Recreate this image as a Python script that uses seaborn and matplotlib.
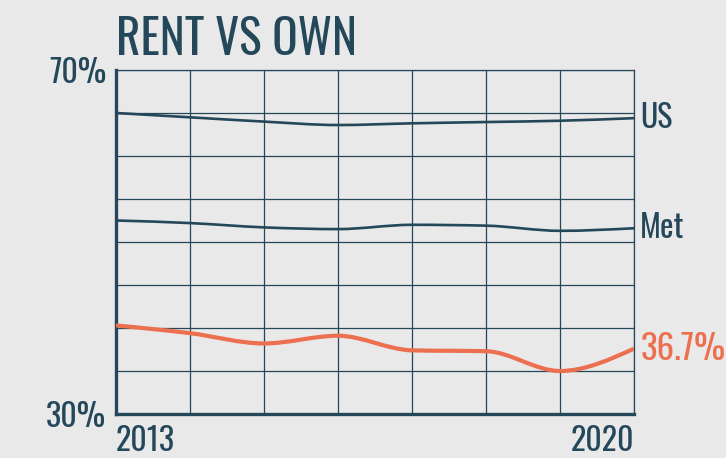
import numpy as np
import matplotlib
matplotlib.use("Agg")
import matplotlib.pyplot as plt
from matplotlib.path import Path
from matplotlib.patches import PathPatch
import seaborn as sns

# --------------------------------------------------------------
# Data
# --------------------------------------------------------------
years = [2013, 2014, 2015, 2016, 2017, 2018, 2019, 2020]
us_share = [65.0, 64.5, 64.0, 63.6, 63.8, 63.95, 64.1, 64.4]
met_share = [52.5, 52.2, 51.7, 51.5, 52.0, 51.9, 51.3, 51.6]
local_share = [40.3, 39.4, 38.2, 39.1, 37.4, 37.3, 35.0, 37.6]
series_names = ["US", "Met", "36.7%"]
y_grid = [30, 35, 40, 45, 50, 55, 60, 65, 70]
y_tick_labels = ["30%", "", "", "", "", "", "", "", "70%"]
x_tick_labels = ["2013", "", "", "", "", "", "", "2020"]
title = "RENT VS OWN"

DARK = "#24485a"
ORANGE = "#ec6f4f"
BG = "#e9e9e9"
FONT = ["Oswald", "Barlow Condensed", "DejaVu Sans"]


def monotone_path(x, y):
    """Bezier path through the points, monotone in x (like d3 curveMonotoneX)."""
    x = np.asarray(x, float)
    y = np.asarray(y, float)
    h = np.diff(x)
    s = np.diff(y) / h
    n = len(x)
    m = np.zeros(n)
    for i in range(1, n - 1):
        p = (s[i - 1] * h[i] + s[i] * h[i - 1]) / (h[i - 1] + h[i])
        m[i] = (np.sign(s[i - 1]) + np.sign(s[i])) * min(abs(s[i - 1]), abs(s[i]), 0.5 * abs(p))
    m[0] = (3 * s[0] - m[1]) / 2
    m[-1] = (3 * s[-1] - m[-2]) / 2
    verts = [(x[0], y[0])]
    codes = [Path.MOVETO]
    for i in range(n - 1):
        d = h[i] / 3
        verts += [(x[i] + d, y[i] + m[i] * d),
                  (x[i + 1] - d, y[i + 1] - m[i + 1] * d),
                  (x[i + 1], y[i + 1])]
        codes += [Path.CURVE4] * 3
    return Path(verts, codes)


sns.set_theme(style="white", rc={"figure.facecolor": BG, "axes.facecolor": BG})
plt.rcParams["font.family"] = FONT

fig = plt.figure(figsize=(7.26, 4.58), dpi=100)
ax = fig.add_axes([116 / 726, 44 / 458, 518 / 726, 344 / 458])

ax.set_xlim(years[0], years[-1])
ax.set_ylim(y_grid[0], y_grid[-1])

ax.set_yticks(y_grid, labels=y_tick_labels)
ax.set_xticks(years, labels=x_tick_labels)
ax.grid(True, color=DARK, linewidth=0.9, zorder=0)
ax.set_axisbelow(True)
ax.tick_params(length=0, colors=DARK, labelsize=23)
ax.tick_params(axis="y", pad=7)
ax.tick_params(axis="x", pad=8)
xl = ax.get_xticklabels()
xl[0].set_ha("left")
xl[-1].set_ha("right")

for side in ["left", "bottom"]:
    ax.spines[side].set_color(DARK)
    ax.spines[side].set_linewidth(2.4)
for side in ["top", "right"]:
    ax.spines[side].set_color(DARK)
    ax.spines[side].set_linewidth(0.9)

styles = [(us_share, DARK, 1.9, 23), (met_share, DARK, 1.9, 23), (local_share, ORANGE, 3.0, 25)]
for name, (vals, color, lw, fs) in zip(series_names, styles):
    ax.add_patch(PathPatch(monotone_path(years, vals), facecolor="none",
                           edgecolor=color, linewidth=lw, zorder=3,
                           capstyle="butt", joinstyle="round"))
    ax.annotate(name, xy=(years[-1], vals[-1]), xytext=(4.5, 0),
                textcoords="offset points", va="center", ha="left",
                fontsize=fs, color=color, annotation_clip=False)

fig.text(116 / 726, 1 - 55 / 458, title, fontsize=34, color=DARK,
         ha="left", va="baseline")

fig.savefig("out.png", dpi=100, facecolor=BG)
